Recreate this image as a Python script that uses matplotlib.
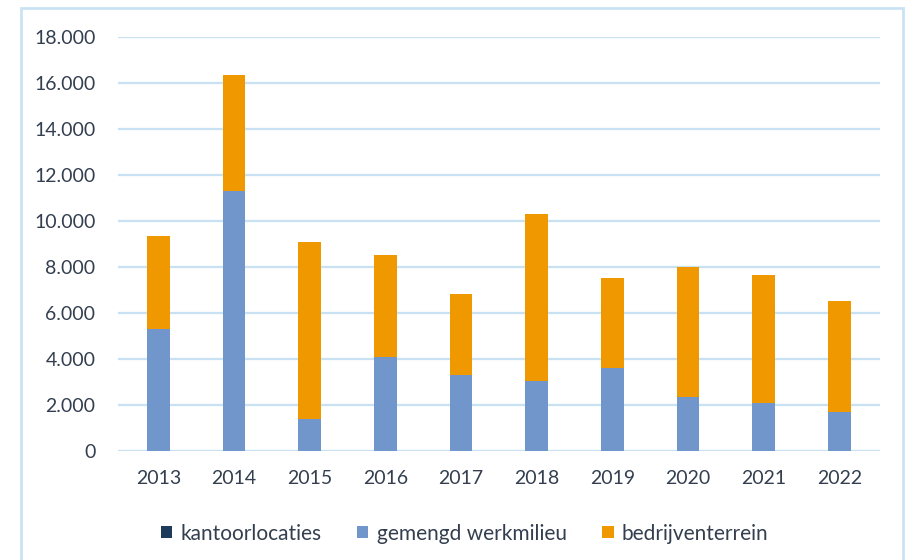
import matplotlib.pyplot as plt
from matplotlib.patches import Rectangle
from matplotlib.ticker import FuncFormatter

years = ['2013', '2014', '2015', '2016', '2017', '2018', '2019', '2020', '2021', '2022']
kantoor = [0, 0, 0, 0, 0, 0, 0, 0, 0, 0]
gemengd = [5300, 11300, 1400, 4100, 3300, 3050, 3600, 2350, 2100, 1700]
bedrijf = [4050, 5050, 7700, 4400, 3500, 7250, 3900, 5650, 5550, 4800]

plt.rcParams['font.family'] = ['Lato', 'DejaVu Sans']

fig = plt.figure(figsize=(9.12, 5.6), dpi=100)
ax = fig.add_axes([0.129, 0.195, 0.836, 0.739])

# light blue frame around the whole chart
fig.patches.append(Rectangle((21 / 912, -0.05), (903 - 21) / 912, 1 - 8 / 560 + 0.05,
                             transform=fig.transFigure, fill=False,
                             edgecolor='#c9e3f5', linewidth=2))

x = range(len(years))
w = 0.30
ax.bar(x, kantoor, w, color='#1f3b5c', label='kantoorlocaties')
ax.bar(x, gemengd, w, bottom=kantoor, color='#7096cc', label='gemengd werkmilieu')
base = [k + g for k, g in zip(kantoor, gemengd)]
ax.bar(x, bedrijf, w, bottom=base, color='#f09800', label='bedrijventerrein')

ax.set_ylim(0, 18000)
ax.set_xlim(-0.54, 9.54)
ax.set_yticks(range(0, 18001, 2000))
ax.yaxis.set_major_formatter(FuncFormatter(lambda v, p: f'{int(v):,}'.replace(',', '.')))
ax.set_xticks(list(x))
ax.set_xticklabels(years)

ax.grid(axis='y', color='#c8e2f3', linewidth=1.6)
ax.set_axisbelow(True)
for s in ax.spines.values():
    s.set_visible(False)
ax.tick_params(length=0, labelsize=14, colors='#333f4f', pad=16)
ax.tick_params(axis='x', pad=14)

ax.legend(loc='center', bbox_to_anchor=(0.455, -0.20), ncol=3, frameon=False,
          fontsize=15, handlelength=0.55, handleheight=0.55, handletextpad=0.4,
          columnspacing=1.7, labelcolor='#333f4f')

fig.savefig('out.png', dpi=100)
